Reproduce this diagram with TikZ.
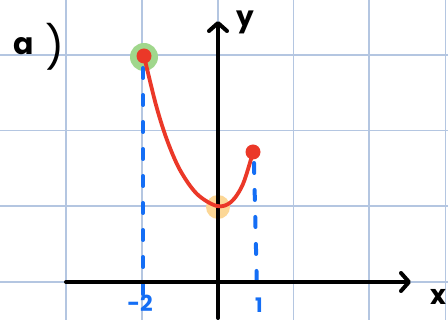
\documentclass[tikz,border=0pt]{standalone}
\usepackage{fontspec}
\setmainfont{Poppins}
\usetikzlibrary{arrows.meta}
\definecolor{gridc}{RGB}{180,198,225}
\definecolor{redc}{RGB}{235,56,40}
\definecolor{bluec}{RGB}{20,110,245}
\definecolor{greenc}{RGB}{160,215,140}
\definecolor{orangec}{RGB}{252,215,150}
\begin{document}
\begin{tikzpicture}[x=1pt,y=-1pt,
  gridline/.style={gridc, line width=1.4pt},
  axisline/.style={black, line width=4pt, line cap=round, line join=round,
    -{Straight Barb[length=8pt,width=18pt,round]}},
  curveline/.style={redc, line width=3.8pt, line cap=round},
  guide/.style={bluec, line width=4pt, line cap=round, dash pattern=on 10pt off 17pt},
  hand/.style={inner sep=0pt, font=\bfseries},
  dotmark/.style={circle, fill=redc, inner sep=0pt, minimum size=15pt}]
\useasboundingbox (0,0) rectangle (448,320);
\fill[white] (0,0) rectangle (448,320);
% grid
\foreach \gx in {66,142,218,293.5,369,445.5}
  \draw[gridline] (\gx,0) -- (\gx,320);
\foreach \gy in {55,130.5,206,282}
  \draw[gridline] (0,\gy) -- (448,\gy);
% highlights
\fill[greenc] (144,57) circle (14);
\fill[orangec] (218,207) circle (12);
% dashed guides
\coordinate (l1) at (143,68);
\coordinate (l2) at (143,294);
\coordinate (r1) at (254,163);
\coordinate (r2) at (257,292);
\draw[guide] (l1) -- (l2);
\draw[guide] (r1) -- (r2);
% axes
\coordinate (xs) at (66,282);
\coordinate (xe) at (411,282);
\coordinate (ys) at (218,318);
\coordinate (ye) at (218,21);
\draw[axisline] (xs) -- (xe);
\draw[axisline] (ys) -- (ye);
% curve
\node[dotmark] (p1) at (144,56) {};
\node[dotmark] (p2) at (253,152) {};
\draw[curveline] plot[smooth, tension=0.55] coordinates
  {(144,56) (156,105) (167,140) (180,170) (197,194) (217,206) (231,202) (243,184) (253,152)};
% labels
\node[hand, font=\fontsize{30}{30}\selectfont\bfseries, anchor=base] (la) at (24,55) {a};
\node[hand, font=\fontsize{42}{42}\selectfont, anchor=center] (lp) at (55,47) {)};
\node[hand, font=\fontsize{28}{28}\selectfont\bfseries, anchor=base] (ly) at (245,27) {y};
\node[hand, font=\fontsize{27}{27}\selectfont\bfseries, anchor=base] (lx) at (438,305) {x};
\node[hand, text=bluec, font=\fontsize{22}{22}\selectfont\bfseries, anchor=base] (lm2) at (140,312) {-2};
\node[hand, text=bluec, font=\fontsize{20}{20}\selectfont\bfseries, anchor=base] (l1n) at (259,313) {1};
\end{tikzpicture}
\end{document}
